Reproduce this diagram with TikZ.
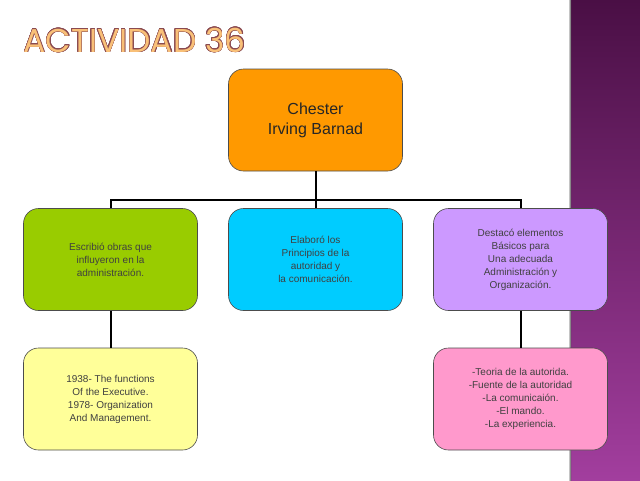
\documentclass[tikz,border=0pt]{standalone}
\usepackage{fontspec}
\setmainfont{Liberation Sans}
\newfontfamily\titlefont{Poppins}
\usepackage{contour}
\contourlength{0.5pt}
\usetikzlibrary{trees,positioning}
\definecolor{naranja}{HTML}{FF9900}
\definecolor{verde}{HTML}{99CC00}
\definecolor{celeste}{HTML}{00CCFF}
\definecolor{lila}{HTML}{CC99FF}
\definecolor{amarillo}{HTML}{FFFF99}
\definecolor{rosa}{HTML}{FF99CC}
\definecolor{moradoarriba}{HTML}{4A0F45}
\definecolor{moradoabajo}{HTML}{A23E9E}
\definecolor{tituloorange}{HTML}{F9C078}
\definecolor{titulocafe}{HTML}{8A4A50}

\begin{document}
\begin{tikzpicture}[
  caja/.style = {draw = black!70, line width = 0.6pt, fill = #1, shape = rectangle, rounded corners = 15pt, minimum width = 174pt, minimum height = 102pt, align = center, text = black!75, font = \fontsize{10}{13}\selectfont},
  edge from parent/.style = {draw = black, line width = 2pt},
  edge from parent path = {(\tikzparentnode.south) -- ++(0,-29pt) -| (\tikzchildnode.north)},
  level distance = 139.5pt,
  level 1/.style = {sibling distance = 205pt}
]
\useasboundingbox (0,0) rectangle (640pt,-480pt);
% franja lateral
\shade[top color = moradoarriba, bottom color = moradoabajo] (571pt,0) rectangle (640pt,-480pt);
\shade[left color = white, right color = black!70] (568pt,0) rectangle (571pt,-480pt);

\node[anchor = base west, text = tituloorange, font = \titlefont\fontsize{33}{33}\selectfont] (titulo) at (20pt,-52pt) {\contour{titulocafe}{ACTIVIDAD 36}};

\node[caja = naranja, text = black!85, font = \fontsize{16}{20}\selectfont] (1) at (315.5pt,-120pt) {Chester\\Irving Barnad}
child {node[caja = verde] (2) {Escribió obras que\\influyeron en la\\administración.}
  child {node[caja = amarillo] (5) {1938- The functions\\Of the Executive.\\1978- Organization\\And Management.}}
}
child {node[caja = celeste] (3) {Elaboró los\\Principios de la\\autoridad y\\la comunicación.}}
child {node[caja = lila] (4) {Destacó elementos\\Básicos para\\Una adecuada\\Administración y\\Organización.}
  child {node[caja = rosa] (6) {-Teoria de la autorida.\\-Fuente de la autoridad\\-La comunicaión.\\-El mando.\\-La experiencia.}}
};
\end{tikzpicture}
\end{document}
